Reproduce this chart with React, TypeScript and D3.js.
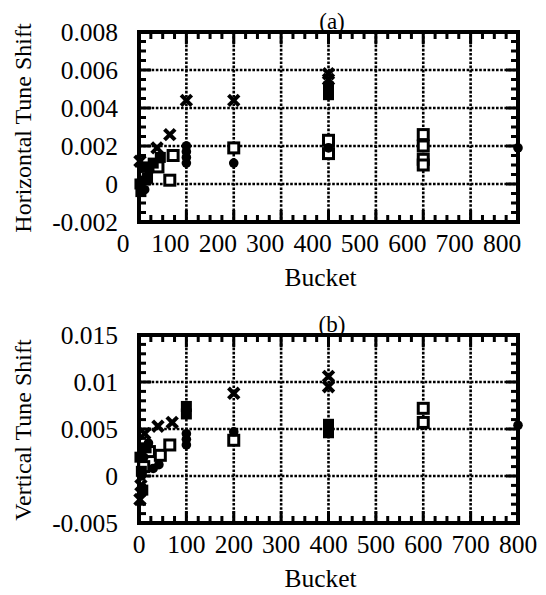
import React from 'react';
import * as d3 from 'd3';

// ---------- data ----------
const bucketTicks = [0, 100, 200, 300, 400, 500, 600, 700, 800];
const hTicks = [-0.002, 0, 0.002, 0.004, 0.006, 0.008];
const vTicks = [-0.005, 0, 0.005, 0.01, 0.015];

// (a) Horizontal tune shift
const hCircleX = [5, 12, 22, 100, 100, 100, 100, 200, 400, 800];
const hCircleY = [0.0002, -0.0003, 0.0007, 0.002, 0.0017, 0.0014, 0.0011, 0.0011, 0.0019, 0.0019];
const hOpenSqX = [12, 40, 65, 72, 200, 400, 400, 600, 600, 600, 600];
const hOpenSqY = [0.0004, 0.0009, 0.0002, 0.0015, 0.0019, 0.0023, 0.0016, 0.0026, 0.002, 0.0013, 0.001];
const hCrossX = [2, 38, 65, 100, 200, 400, 400];
const hCrossY = [0.0012, 0.0019, 0.0026, 0.0044, 0.0044, 0.0058, 0.0055];
const hFillSqX = [2, 4, 10, 18, 30, 45, 400, 400];
const hFillSqY = [0.0, -0.0004, 0.0009, 0.0003, 0.0011, 0.0014, 0.0051, 0.0047];

// (b) Vertical tune shift
const vCircleX = [5, 10, 20, 30, 42, 100, 100, 100, 200, 800];
const vCircleY = [0.0, 0.002, 0.0035, 0.0008, 0.0012, 0.0045, 0.0039, 0.0033, 0.0047, 0.0054];
const vOpenSqX = [10, 22, 45, 65, 200, 600, 600];
const vOpenSqY = [0.001, 0.0026, 0.0022, 0.0033, 0.0038, 0.0072, 0.0057];
const vCrossX = [2, 4, 12, 40, 70, 200, 400, 400];
const vCrossY = [-0.0025, -0.001, 0.0045, 0.0053, 0.0057, 0.0088, 0.0106, 0.0095];
const vFillSqX = [2, 5, 8, 15, 100, 100, 400, 400];
const vFillSqY = [0.002, 0.0005, -0.0015, 0.003, 0.0074, 0.0066, 0.0055, 0.0046];

// ---------- layout ----------
const W = 546;
const H = 595;
const LEFT = 139;
const RIGHT = 518;
const FONT = 'Liberation Serif, serif';

type Kind = 'circle' | 'openSq' | 'cross' | 'fillSq';
type Series = { xs: number[]; ys: number[]; kind: Kind };

function Panel(props: {
  top: number;
  bottom: number;
  yDomain: [number, number];
  yTicks: number[];
  yMinor: number;
  title: string;
  ylabel: string;
  series: Series[];
  labelShift: number;
}) {
  const { top, bottom, yDomain, yTicks, yMinor, title, ylabel, series, labelShift } = props;
  const x = d3.scaleLinear().domain([0, 800]).range([LEFT, RIGHT]);
  const y = d3.scaleLinear().domain(yDomain).range([bottom, top]);
  const xMinor = d3.range(0, 33).map((i) => i * 25);
  const nY = Math.round((yDomain[1] - yDomain[0]) / yMinor);
  const yMinorTicks = d3.range(0, nY + 1).map((i) => yDomain[0] + i * yMinor);
  const isMajorY = (v: number) => yTicks.some((t) => Math.abs(t - v) < yMinor / 10);
  const majorLen = 12;
  const minorLen = 7;

  const ticks: { x1: number; y1: number; x2: number; y2: number }[] = [];
  xMinor.forEach((t) => {
    const L = t % 100 === 0 ? majorLen : minorLen;
    ticks.push({ x1: x(t) - 1.5, y1: top, x2: x(t) + 1.5, y2: top + L });
    ticks.push({ x1: x(t) - 1.5, y1: bottom - L, x2: x(t) + 1.5, y2: bottom });
  });
  yMinorTicks.forEach((t) => {
    const L = isMajorY(t) ? majorLen : minorLen;
    ticks.push({ x1: LEFT, y1: y(t) - 1.5, x2: LEFT + L, y2: y(t) + 1.5 });
    ticks.push({ x1: RIGHT - L, y1: y(t) - 1.5, x2: RIGHT, y2: y(t) + 1.5 });
  });

  return (
    <g>
      {bucketTicks.slice(1, -1).map((t) => (
        <line key={'gx' + t} x1={x(t)} x2={x(t)} y1={top} y2={bottom} stroke="#000" strokeWidth="2.6" strokeDasharray="2.6 1.6" />
      ))}
      {yTicks.slice(1, -1).map((t) => (
        <line key={'gy' + t} x1={LEFT} x2={RIGHT} y1={y(t)} y2={y(t)} stroke="#000" strokeWidth="2.6" strokeDasharray="2.6 1.6" />
      ))}
      {ticks.map((t, i) => (
        <rect key={'t' + i} x={t.x1} y={t.y1} width={t.x2 - t.x1} height={t.y2 - t.y1} fill="#000" />
      ))}
      <rect x={LEFT - 2} y={top - 2} width={RIGHT - LEFT + 4} height={4} fill="#000" />
      <rect x={LEFT - 2} y={bottom - 2} width={RIGHT - LEFT + 4} height={4} fill="#000" />
      <rect x={LEFT - 2} y={top - 2} width={4} height={bottom - top + 4} fill="#000" />
      <rect x={RIGHT - 2} y={top - 2} width={4} height={bottom - top + 4} fill="#000" />
      {series.map((s, si) =>
        s.xs.map((xv, i) => {
          const cx = x(xv);
          const cy = y(s.ys[i]);
          const k = si + '-' + i;
          if (s.kind === 'circle') return <circle key={k} cx={cx} cy={cy} r={4.8} fill="#000" />;
          if (s.kind === 'fillSq') return <rect key={k} x={cx - 5.5} y={cy - 5.5} width={11} height={11} fill="#000" />;
          if (s.kind === 'openSq')
            return (
              <g key={k}>
                <rect x={cx - 6.5} y={cy - 6.5} width={13} height={13} fill="#000" />
                <rect x={cx - 3.5} y={cy - 3.5} width={7} height={7} fill="#fff" />
              </g>
            );
          return (
            <g key={k} transform={`translate(${cx},${cy})`}>
              <rect x={-7.5} y={-2} width={15} height={4} fill="#000" transform="rotate(45)" />
              <rect x={-7.5} y={-2} width={15} height={4} fill="#000" transform="rotate(-45)" />
            </g>
          );
        })
      )}
      {yTicks.map((t) => (
        <text key={'ly' + t} x={118} y={y(t) + 9} textAnchor="end" fontSize="25.5" fontFamily={FONT}>
          {String(t)}
        </text>
      ))}
      {bucketTicks.map((t) => (
        <text key={'lx' + t} x={x(t) + labelShift} y={bottom + 30} textAnchor="middle" fontSize="25.5" fontFamily={FONT}>
          {String(t)}
        </text>
      ))}
      <text x={(LEFT + RIGHT) / 2 - 8} y={bottom + 64} textAnchor="middle" fontSize="25.5" fontFamily={FONT}>
        Bucket
      </text>
      <text x={332} y={top - 3} textAnchor="middle" fontSize="23" fontFamily={FONT}>
        {title}
      </text>
      <text transform={`translate(31,${(top + bottom) / 2 + 1}) rotate(-90)`} textAnchor="middle" fontSize="24" fontFamily={FONT}>
        {ylabel}
      </text>
    </g>
  );
}

export default function App() {
  const seriesA: Series[] = [
    { xs: hOpenSqX, ys: hOpenSqY, kind: 'openSq' },
    { xs: hFillSqX, ys: hFillSqY, kind: 'fillSq' },
    { xs: hCircleX, ys: hCircleY, kind: 'circle' },
    { xs: hCrossX, ys: hCrossY, kind: 'cross' },
  ];
  const seriesB: Series[] = [
    { xs: vOpenSqX, ys: vOpenSqY, kind: 'openSq' },
    { xs: vFillSqX, ys: vFillSqY, kind: 'fillSq' },
    { xs: vCircleX, ys: vCircleY, kind: 'circle' },
    { xs: vCrossX, ys: vCrossY, kind: 'cross' },
  ];
  return (
    <svg width={W} height={H} viewBox={`0 0 ${W} ${H}`} style={{ position: 'absolute', left: 0, top: 0, background: '#fff' }}>
      <rect width={W} height={H} fill="#fff" />
      <Panel
        top={32}
        bottom={222}
        yDomain={[-0.002, 0.008]}
        yTicks={hTicks}
        yMinor={0.0005}
        title="(a)"
        ylabel="Horizontal Tune Shift"
        series={seriesA}
        labelShift={-16}
      />
      <Panel
        top={335}
        bottom={523}
        yDomain={[-0.005, 0.015]}
        yTicks={vTicks}
        yMinor={0.001}
        title="(b)"
        ylabel="Vertical Tune Shift"
        series={seriesB}
        labelShift={0}
      />
    </svg>
  );
}
